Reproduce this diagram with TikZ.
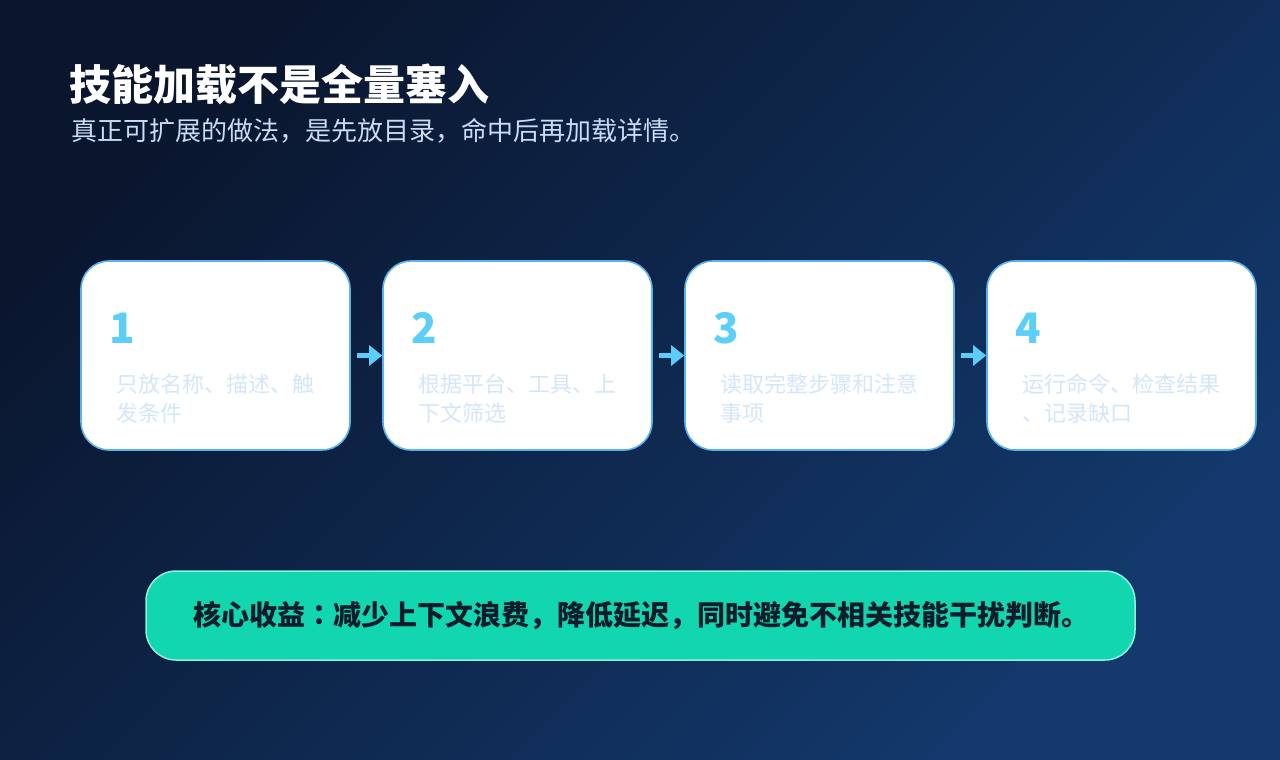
\documentclass[tikz,border=0pt]{standalone}
\usepackage{fontspec}
\setmainfont{Noto Sans CJK SC}
\newfontfamily\jpfont{Noto Sans CJK JP}
\usetikzlibrary{arrows.meta}
\definecolor{bgA}{HTML}{0A162E}
\definecolor{bgB}{HTML}{13396D}
\definecolor{boxline}{HTML}{5AB2F0}
\definecolor{numc}{HTML}{5CCFF8}
\definecolor{bodyc}{HTML}{D4E6FA}
\definecolor{subc}{HTML}{C8DCF5}
\definecolor{arrc}{HTML}{5CCDF8}
\definecolor{banfill}{HTML}{12D6B0}
\definecolor{banline}{HTML}{8EF0DC}
\definecolor{bantext}{HTML}{0D1B2A}
\tikzset{
  stepbox/.style={draw=boxline, line width=1.6pt, fill=white, rounded corners=28pt,
    minimum width=269pt, minimum height=189pt, inner sep=0pt},
  numtxt/.style={anchor=base west, inner sep=0pt, text=numc, font=\fontsize{42}{48}\selectfont\bfseries},
  bodytxt/.style={anchor=base west, inner sep=0pt, text=bodyc, font=\fontsize{22}{29.5}\selectfont, align=left},
  flowarrow/.style={draw=arrc, line width=4.5pt, -{Triangle[length=13pt,width=20pt]}},
}
\begin{document}
\begin{tikzpicture}[x=1pt,y=-1pt]
\useasboundingbox (0,0) rectangle (1280,760);
\shade[top color=bgA, bottom color=bgB, shading angle=45] (0,0) rectangle (1280,760);
% title
\node[anchor=base west, inner sep=0pt, text=white, font=\fontsize{42}{48}\selectfont\bfseries] (title) at (69,100) {技能加载不是全量塞入};
\node[anchor=base west, inner sep=0pt, text=subc, font=\fontsize{26}{30}\selectfont] (subtitle) at (71,140.5) {真正可扩展的做法，是先放目录，命中后再加载详情。};
% boxes
\node[stepbox] (b1) at (215.5,355.5) {};
\node[stepbox] (b2) at (517.5,355.5) {};
\node[stepbox] (b3) at (819.5,355.5) {};
\node[stepbox] (b4) at (1121.5,355.5) {};
\foreach \i/\t in {1/{只放名称、描述、触\\发条件}, 2/{根据平台、工具、上\\下文筛选}, 3/{读取完整步骤和注意\\事项}, 4/{运行命令、检查结果\\、记录缺口}}{
  \node[numtxt] (n\i) at ([shift={(-106.5,-12)}]b\i.center) {\i};
  \node[bodytxt] (t\i) at ([shift={(-99.5,66)}]b\i.center) {\t};
}
% arrows
\draw[flowarrow] ([xshift=6pt]b1.east) -- (b2.west);
\draw[flowarrow] ([xshift=6pt]b2.east) -- (b3.west);
\draw[flowarrow] ([xshift=6pt]b3.east) -- (b4.west);
% banner
\node[draw=banline, line width=1.5pt, fill=banfill, rounded corners=30pt, minimum width=989pt, minimum height=89pt,
  text=bantext, font=\fontsize{28}{32}\selectfont\bfseries] (banner) at (640.5,615.5) {\hspace{2pt}核心收益{\jpfont\bfseries ：}减少上下文浪费，降低延迟，同时避免不相关技能干扰判断。};
\end{tikzpicture}
\end{document}
